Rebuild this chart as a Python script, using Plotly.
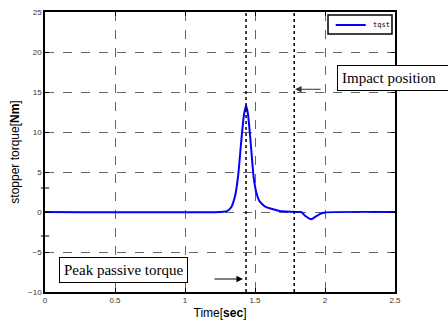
import plotly.graph_objects as go

# Data
time_s = [0, 1.25, 1.30, 1.33, 1.36, 1.38, 1.40, 1.42, 1.436, 1.45, 1.47, 1.49, 1.51,
          1.53, 1.55, 1.58, 1.62, 1.66, 1.72, 1.80, 1.83, 1.86, 1.90, 1.94, 1.97, 2.00, 2.5]
tqst = [0, 0, 0.1, 0.6, 2.2, 4.6, 8.5, 12.0, 13.3, 12.2, 8.5, 4.4, 2.4,
        1.4, 1.0, 0.6, 0.4, 0.2, 0.05, 0, 0, -0.5, -0.9, -0.5, -0.2, -0.05, 0]
series_name = "tqst"

event_times = [1.436, 1.78]  # dotted marker lines
x_ticks = [0, 0.5, 1, 1.5, 2, 2.5]
x_tick_labels = ["0", "0.5", "1", "1.5", "2", "2.5"]
y_ticks = [-10, -5, 0, 5, 10, 15, 20, 25]
y_tick_labels = ["−10", "−5", "0", "5", "10", "15", "20", "25"]

BLUE = "#0000ff"
fig = go.Figure()
fig.add_trace(go.Scatter(x=time_s, y=tqst, mode="lines", name=series_name,
                         line=dict(color=BLUE, width=2, shape="spline", smoothing=0.6)))

for t in event_times:
    fig.add_shape(type="line", xref="x", yref="paper", x0=t, x1=t, y0=0, y1=1,
                  line=dict(color="black", width=1.5, dash="dot"))

# small extra ticks on the left axis
for yv in [3, -3]:
    fig.add_shape(type="line", xref="paper", yref="y", x0=-0.012, x1=0.012, y0=yv, y1=yv,
                  line=dict(color="black", width=1))

# MATLAB-style legend box (top right)
fig.add_shape(type="rect", xref="paper", yref="paper", x0=0.8086, x1=0.9914, y0=0.921, y1=0.989,
              line=dict(color="black", width=1.5), fillcolor="white", layer="above")
fig.add_shape(type="line", xref="paper", yref="paper", x0=0.8306, x1=0.9163, y0=0.9536, y1=0.9536,
              line=dict(color=BLUE, width=2), layer="above")
fig.add_annotation(x=0.9306, y=0.9536, xref="paper", yref="paper", xanchor="left",
                   yanchor="middle", text=series_name, showarrow=False,
                   font=dict(family="DejaVu Sans Mono", size=7, color="black"))

serif = "Liberation Serif"
# Peak passive torque box + arrow
fig.add_annotation(x=0.564, y=-7.19, xref="x", yref="y", text="Peak passive torque",
                   showarrow=False, font=dict(family=serif, size=15, color="black"),
                   bordercolor="black", borderwidth=1, borderpad=4, bgcolor="white")
fig.add_annotation(x=1.414, y=-8.375, ax=1.2, ay=-8.375, xref="x", yref="y",
                   axref="x", ayref="y", text="", showarrow=True, arrowhead=2,
                   arrowsize=1.3, arrowwidth=1, arrowcolor="black")
# Impact position box + arrow (box runs off the right edge like the original)
fig.add_annotation(x=2.086, y=16.81, xref="x", yref="y", xanchor="left",
                   text="Impact position", showarrow=False, width=118, align="left",
                   font=dict(family=serif, size=15, color="black"),
                   bordercolor="black", borderwidth=1, borderpad=4, bgcolor="white")
fig.add_annotation(x=1.786, y=15.34, ax=1.979, ay=15.34, xref="x", yref="y",
                   axref="x", ayref="y", text="", showarrow=True, arrowhead=2,
                   arrowsize=1.3, arrowwidth=1, arrowcolor="#333333")

axis_common = dict(showline=True, linecolor="black", linewidth=1.5, mirror="ticks",
                   ticks="inside", ticklen=4, tickcolor="black", showgrid=True,
                   gridcolor="#666666", griddash="dash", gridwidth=1, zeroline=False,
                   automargin=False,
                   tickfont=dict(family="Liberation Sans", size=8, color="#333333"))

fig.update_xaxes(range=[0, 2.5], tickvals=x_ticks, ticktext=x_tick_labels,
                 title=dict(text="Time[<b>sec</b>]", standoff=4,
                            font=dict(family="Liberation Sans", size=12, color="black")),
                 **axis_common)
fig.update_yaxes(range=[-10, 25], tickvals=y_ticks, ticktext=y_tick_labels,
                 title=dict(text="stopper torque[<b>Nm</b>]", standoff=6,
                            font=dict(family="Liberation Sans", size=12, color="black")),
                 **axis_common)

fig.update_layout(template="none", width=448, height=323, margin=dict(l=45, r=53, t=12, b=31),
                  paper_bgcolor="white", plot_bgcolor="white", showlegend=False)

fig.write_html("out.html", config={"displayModeBar": False},
               post_script="document.body.style.margin='0';")
